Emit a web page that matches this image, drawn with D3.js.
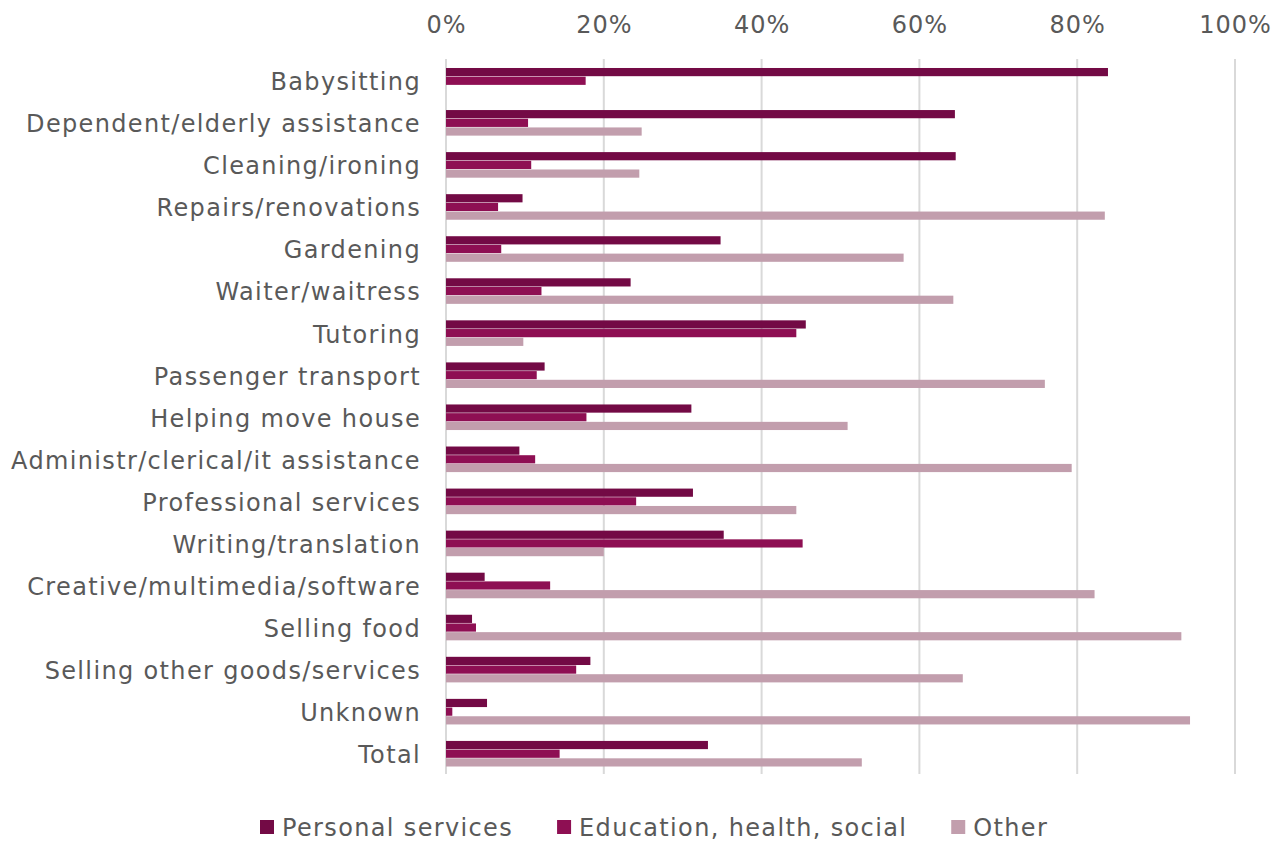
<!DOCTYPE html>
<html><head><meta charset="utf-8">
<script src="https://cdn.jsdelivr.net/npm/d3@7"></script>
<style>body{margin:0;background:#fff}svg{display:block}text{font-family:"DejaVu Sans",Verdana,sans-serif;fill:#595959}</style>
</head><body><svg id="c" width="1283" height="842"></svg>
<script>
const categories = ["Babysitting","Dependent/elderly assistance","Cleaning/ironing","Repairs/renovations","Gardening","Waiter/waitress","Tutoring","Passenger transport","Helping move house","Administr/clerical/it assistance","Professional services","Writing/translation","Creative/multimedia/software","Selling food","Selling other goods/services","Unknown","Total"];
const seriesNames = ["Personal services","Education, health, social","Other"];
const personal = [83.9,64.5,64.6,9.7,34.8,23.4,45.6,12.5,31.1,9.3,31.3,35.2,4.9,3.3,18.3,5.2,33.2];
const education = [17.7,10.4,10.8,6.6,7.0,12.1,44.4,11.5,17.8,11.3,24.1,45.2,13.2,3.8,16.5,0.8,14.4];
const other = [0,24.8,24.5,83.5,58.0,64.3,9.8,75.9,50.9,79.3,44.4,20.0,82.2,93.2,65.5,94.3,52.7];
const tickValues = [0,20,40,60,80,100];
const colors = ["#730a45","#8e0f53","#c29ead"];

const seriesVals = [personal, education, other];
const svg = d3.select("#c");
const x = d3.scaleLinear().domain([0,100]).range([446,1235]);
const y = d3.scaleBand().domain(categories).range([60,775]).paddingInner(0.38).paddingOuter(0.19);
const ys = d3.scaleBand().domain(seriesNames).range([0,y.bandwidth()]);
const LS = 1.35;

// gridlines
svg.append("g").selectAll("line").data(tickValues).join("line")
  .attr("x1",d=>x(d)).attr("x2",d=>x(d)).attr("y1",59).attr("y2",774)
  .attr("stroke","#d9d9d9").attr("stroke-width",2);

// top axis
const ax = svg.append("g").attr("transform","translate(0,29)")
  .call(d3.axisTop(x).tickValues(tickValues).tickFormat(d=>d+"%").tickSize(0));
ax.select(".domain").remove();
ax.selectAll("text").style("font-size","24px").attr("fill","#595959").attr("dy","0.3em")
  .style("letter-spacing","1px").style("font-family",'"DejaVu Sans",Verdana,sans-serif');

// bars
categories.forEach((c,i)=>{
  const g = svg.append("g").attr("transform",`translate(0,${y(c)})`);
  g.selectAll("rect").data(seriesNames.map((s,k)=>({s,v:seriesVals[k][i],k}))).join("rect")
    .attr("x",x(0)).attr("y",d=>ys(d.s)).attr("height",ys.bandwidth()-0.5)
    .attr("width",d=>x(d.v)-x(0)).attr("fill",d=>colors[d.k]);
});

// category labels
const ay = svg.append("g").attr("transform","translate(421,0)")
  .call(d3.axisLeft(y).tickSize(0).tickPadding(0));
ay.select(".domain").remove();
ay.selectAll("text").style("font-size","24px").attr("fill","#595959").attr("dy","0.38em")
  .style("letter-spacing",LS+"px").style("font-family",'"DejaVu Sans",Verdana,sans-serif');

// legend
const lg = svg.append("g");
let lx = 260;
seriesNames.forEach((s,k)=>{
  lg.append("rect").attr("x",lx).attr("y",820).attr("width",14).attr("height",14).attr("fill",colors[k]);
  const t = lg.append("text").attr("x",lx+22).attr("y",828).attr("dy","0.35em")
    .style("font-size","24px").style("letter-spacing",LS+"px").text(s);
  lx = lx + 22 + t.node().getComputedTextLength() + 44;
});
</script></body></html>
